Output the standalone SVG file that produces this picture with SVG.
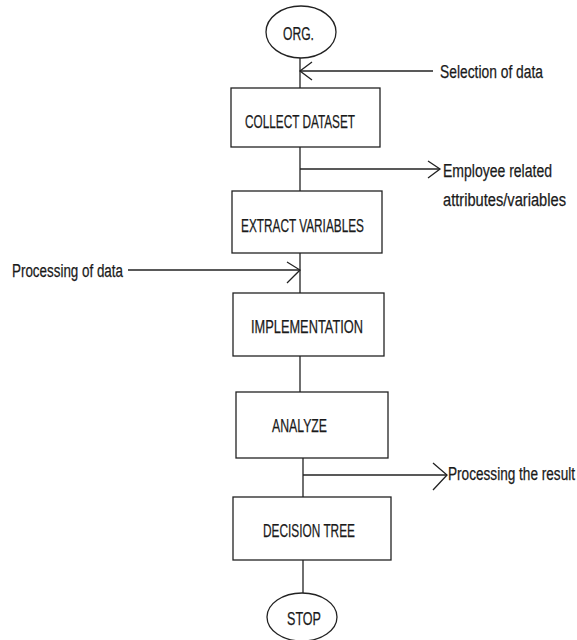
<svg xmlns="http://www.w3.org/2000/svg" width="577" height="640" viewBox="0 0 577 640">
<style>
.box{fill:#fff;stroke:#222;stroke-width:1.3}
.ln{fill:none;stroke:#222;stroke-width:1.3}
.t{font-family:"Liberation Sans",Arial,sans-serif;font-size:18px;fill:#1a1a1a;stroke:#1a1a1a;stroke-width:0.25}
</style>
<rect width="577" height="640" fill="#fff"/>
<g id="connectors">
<line class="ln" x1="300" y1="58" x2="300" y2="88"/>
<line class="ln" x1="300" y1="71" x2="433" y2="71"/>
<polyline class="ln" points="312,62 300,71 312,80"/>
<line class="ln" x1="300" y1="147" x2="300" y2="191"/>
<line class="ln" x1="300" y1="169" x2="440" y2="169"/>
<polyline class="ln" points="428,161 440,169 428,178"/>
<line class="ln" x1="300" y1="253" x2="300" y2="293"/>
<line class="ln" x1="128" y1="270" x2="300" y2="270"/>
<polyline class="ln" points="287,262 300,270 287,283"/>
<line class="ln" x1="300" y1="356" x2="300" y2="392"/>
<line class="ln" x1="303" y1="458" x2="303" y2="497"/>
<line class="ln" x1="303" y1="475" x2="447" y2="475"/>
<polyline class="ln" points="433,463 447,475 433,490"/>
<line class="ln" x1="303" y1="560" x2="303" y2="593"/>
</g>
<g id="org"><ellipse class="box" cx="301" cy="32" rx="35" ry="26"/><text class="t" x="283" y="40" textLength="31" lengthAdjust="spacingAndGlyphs">ORG.</text></g>
<g id="collect"><rect class="box" x="231" y="88" width="149" height="59"/><text class="t" x="245" y="128" textLength="110" lengthAdjust="spacingAndGlyphs">COLLECT DATASET</text></g>
<g id="extract"><rect class="box" x="232" y="191" width="150" height="62"/><text class="t" x="241" y="232" textLength="123" lengthAdjust="spacingAndGlyphs">EXTRACT VARIABLES</text></g>
<g id="implementation"><rect class="box" x="233" y="293" width="151" height="63"/><text class="t" x="251" y="333" textLength="112" lengthAdjust="spacingAndGlyphs">IMPLEMENTATION</text></g>
<g id="analyze"><rect class="box" x="236" y="392" width="152" height="66"/><text class="t" x="272" y="432" textLength="55" lengthAdjust="spacingAndGlyphs">ANALYZE</text></g>
<g id="decision"><rect class="box" x="233" y="497" width="158" height="63"/><text class="t" x="263" y="537" textLength="92" lengthAdjust="spacingAndGlyphs">DECISION TREE</text></g>
<g id="stop"><ellipse class="box" cx="302" cy="617" rx="35" ry="24"/><text class="t" x="287" y="625" textLength="34" lengthAdjust="spacingAndGlyphs">STOP</text></g>
<g id="labels">
<text class="t" x="440" y="78" textLength="103" lengthAdjust="spacingAndGlyphs">Selection of data</text>
<text class="t" x="443" y="177" textLength="109" lengthAdjust="spacingAndGlyphs">Employee related</text>
<text class="t" x="443" y="206" textLength="123" lengthAdjust="spacingAndGlyphs">attributes/variables</text>
<text class="t" x="12" y="277" textLength="111" lengthAdjust="spacingAndGlyphs">Processing of data</text>
<text class="t" x="448" y="480" textLength="127" lengthAdjust="spacingAndGlyphs">Processing the result</text>
</g>
</svg>
